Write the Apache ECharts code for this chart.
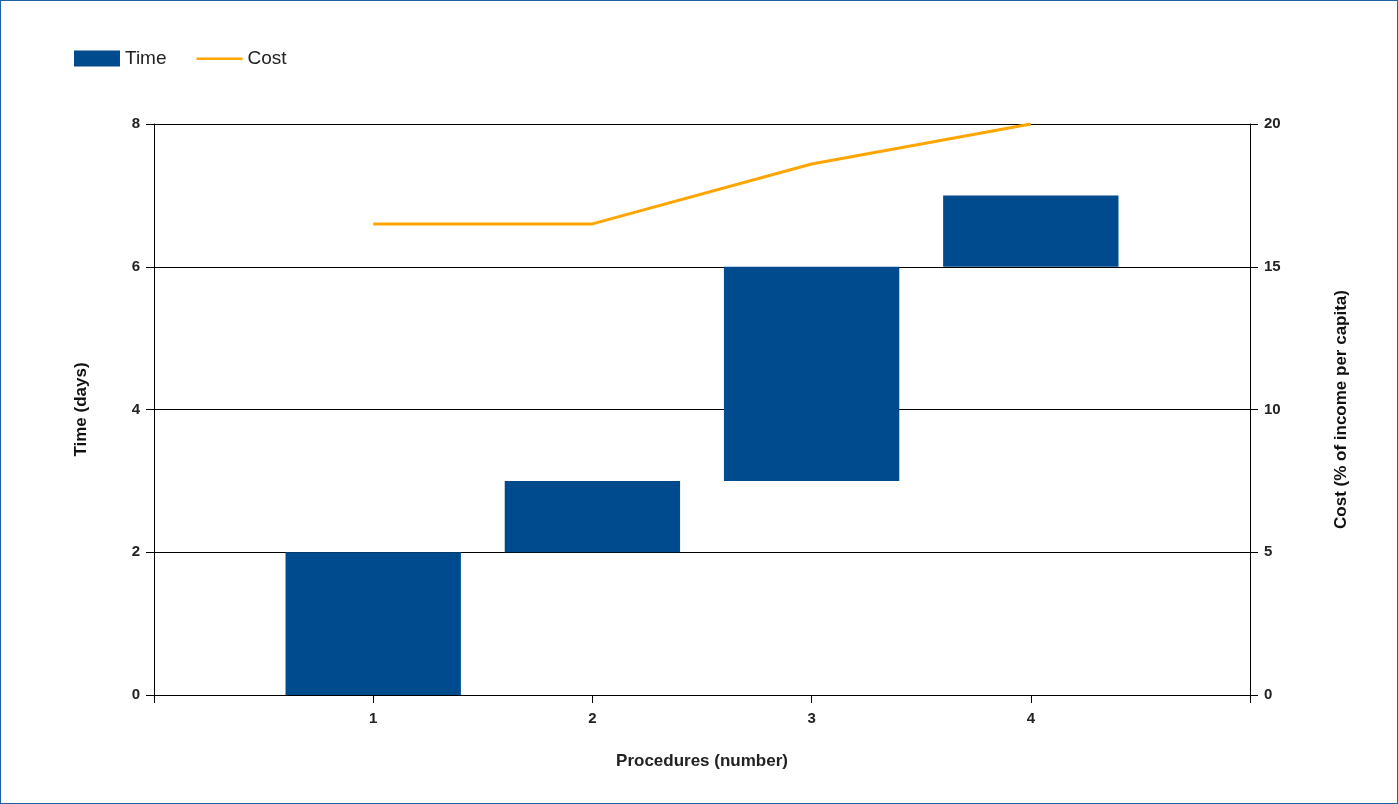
<!DOCTYPE html>
<html><head><meta charset="utf-8">
<script src="https://cdn.jsdelivr.net/npm/echarts@6/dist/echarts.min.js"></script>
<style>html,body{margin:0;padding:0;background:#fff}#c{width:1396px;height:802px;border:1px solid #1f5fa8}</style>
</head><body><div id="c"></div>
<script>
const procedures = [1, 2, 3, 4];
const timeStart = [0, 2, 3, 6];
const timeDays = [2, 1, 3, 1];
const costPct = [16.5, 16.5, 18.6, 20];

const chart = echarts.init(document.getElementById('c'));
const font = 'Liberation Sans, Arial, sans-serif';
chart.setOption({
  animation: false,
  legend: {left: 68, top: 43, itemWidth: 46, itemHeight: 16, itemGap: 30,
    textStyle: {fontFamily: font, fontSize: 19, color: '#222'},
    data: [{name: 'Time', icon: 'rect'},
           {name: 'Cost', icon: 'path://M0,0h0.01v0.01h-0.01zM0,7h46v2.5h-46zM45.99,15.99h0.01v0.01h-0.01z'}]},
  grid: {left: 153, right: 147, top: 123, bottom: 108},
  xAxis: {type: 'value', min: 0, max: 5, interval: 1,
    name: 'Procedures (number)', nameLocation: 'middle', nameGap: 58,
    nameTextStyle: {fontFamily: font, fontSize: 17, fontWeight: 'bold', color: '#222'},
    axisLine: {lineStyle: {color: '#000'}}, axisTick: {show: true, length: 8, lineStyle: {color: '#000'}},
    axisLabel: {fontFamily: font, fontSize: 15, fontWeight: 'bold', color: '#222', margin: 16,
      formatter: v => (v >= 1 && v <= 4) ? v : ''},
    splitLine: {show: false}},
  yAxis: [
    {type: 'value', min: 0, max: 8, interval: 2, name: 'Time (days)', nameLocation: 'middle', nameGap: 64,
      nameTextStyle: {fontFamily: font, fontSize: 17, fontWeight: 'bold', color: '#111'},
      axisLine: {show: true, lineStyle: {color: '#000'}}, axisTick: {show: true, length: 8, lineStyle: {color: '#000'}},
      axisLabel: {fontFamily: font, fontSize: 15, fontWeight: 'bold', color: '#222', margin: 14},
      splitLine: {lineStyle: {color: '#000', width: 1}}},
    {type: 'value', min: 0, max: 20, interval: 5, name: 'Cost (% of income per capita)', nameLocation: 'middle', nameGap: 83,
      nameRotate: 90,
      nameTextStyle: {fontFamily: font, fontSize: 17, fontWeight: 'bold', color: '#111'},
      axisLine: {show: true, lineStyle: {color: '#000'}}, axisTick: {show: true, length: 8, lineStyle: {color: '#000'}},
      axisLabel: {fontFamily: font, fontSize: 15, fontWeight: 'bold', color: '#222', margin: 14},
      splitLine: {show: false}}
  ],
  series: [
    {name: 'Time', type: 'custom', itemStyle: {color: '#004B8D'},
      encode: {x: 0, y: [1, 2]},
      data: procedures.map((p, i) => [p, timeStart[i], timeStart[i] + timeDays[i]]),
      renderItem: function (params, api) {
        const x = api.value(0);
        const p0 = api.coord([x - 0.4, api.value(1)]);
        const p1 = api.coord([x + 0.4, api.value(2)]);
        return {type: 'rect', shape: {x: p0[0], y: p1[1], width: p1[0] - p0[0], height: p0[1] - p1[1]},
          style: {fill: '#004B8D'}};
      }},
    {name: 'Cost', type: 'line', yAxisIndex: 1, symbol: 'none', lineStyle: {color: '#FFA500', width: 3},
      itemStyle: {color: '#FFA500'}, data: procedures.map((p, i) => [p, costPct[i]])}
  ]
});
</script></body></html>
